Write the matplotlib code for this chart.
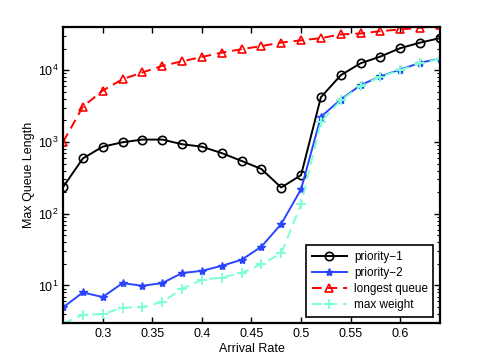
import matplotlib
matplotlib.use("Agg")
import matplotlib.pyplot as plt
from matplotlib.ticker import LogLocator, NullFormatter

plt.rcParams['font.family'] = ['Liberation Sans', 'DejaVu Sans']
plt.rcParams['mathtext.fontset'] = 'custom'
plt.rcParams['mathtext.rm'] = 'Liberation Sans'

rate = [0.26, 0.28, 0.30, 0.32, 0.34, 0.36, 0.38, 0.40, 0.42, 0.44,
        0.46, 0.48, 0.50, 0.52, 0.54, 0.56, 0.58, 0.60, 0.62, 0.64]
priority1 = [235, 590, 860, 990, 1080, 1080, 930, 860, 700, 545,
             420, 232, 345, 4200, 8500, 12500, 15500, 20300, 24200, 28000]
priority2 = [4.95, 8.0, 6.9, 10.8, 9.9, 10.8, 14.9, 16, 18.8, 22.8,
             34.7, 72, 219, 2240, 3900, 6200, 8200, 10200, 12700, 14500]
longest = [1000, 3100, 5200, 7500, 9300, 11500, 13300, 15300, 17600, 19600,
           21700, 24300, 26100, 28000, 31500, 32500, 35000, 37000, 39000, 42000]
maxweight = [2.95, 3.9, 4.0, 4.9, 5.0, 5.9, 9.0, 12, 12.9, 14.9,
             19.8, 28, 135, 1900, 3800, 6000, 8100, 10000, 12500, 14300]

fig = plt.figure(figsize=(4.85, 3.64), dpi=100)
ax = fig.add_axes([0.130, 0.1126, 0.777, 0.8132])

ax.plot(rate, priority1, '-o', color='black', lw=1.4, ms=6,
        mfc='none', mew=1.2, label='priority\u22121')
ax.plot(rate, priority2, '-*', color='#2b45ff', lw=1.4, ms=6,
        label='priority\u22122')
ax.plot(rate, longest, '--^', color='red', lw=1.4, ms=6,
        mfc='none', mew=1.2, dashes=(5, 3), label='longest queue')
ax.plot(rate, maxweight, '--+', color='#7fffd4', lw=1.4, ms=7,
        mew=1.4, dashes=(5, 3), label='max weight')

ax.set_yscale('log')
ax.set_xlim(0.26, 0.64)
ax.set_ylim(3, 40000)
ax.set_xticks([0.3, 0.35, 0.4, 0.45, 0.5, 0.55, 0.6])
ax.set_xticklabels(['0.3', '0.35', '0.4', '0.45', '0.5', '0.55', '0.6'])
ax.yaxis.set_major_locator(LogLocator(base=10, numticks=10))
ax.yaxis.set_minor_locator(LogLocator(base=10, subs=range(2, 10), numticks=20))
ax.yaxis.set_minor_formatter(NullFormatter())

ax.tick_params(which='both', direction='in', top=True, right=True,
               labelsize=9, colors='black')
ax.tick_params(which='major', length=4, width=1)
ax.tick_params(which='minor', length=2, width=0.8)
for s in ax.spines.values():
    s.set_linewidth(1.6)

ax.set_xlabel('Arrival Rate', fontsize=9, labelpad=2)
ax.set_ylabel('Max Queue Length', fontsize=9, labelpad=2)

leg = ax.legend(loc='lower right', fontsize=8.5, fancybox=False,
                framealpha=1, edgecolor='black', borderpad=0.45,
                labelspacing=0.35, handlelength=3.0, handletextpad=0.6,
                borderaxespad=0.55)
leg.get_frame().set_linewidth(1.2)

fig.savefig('out.png', dpi=100)
